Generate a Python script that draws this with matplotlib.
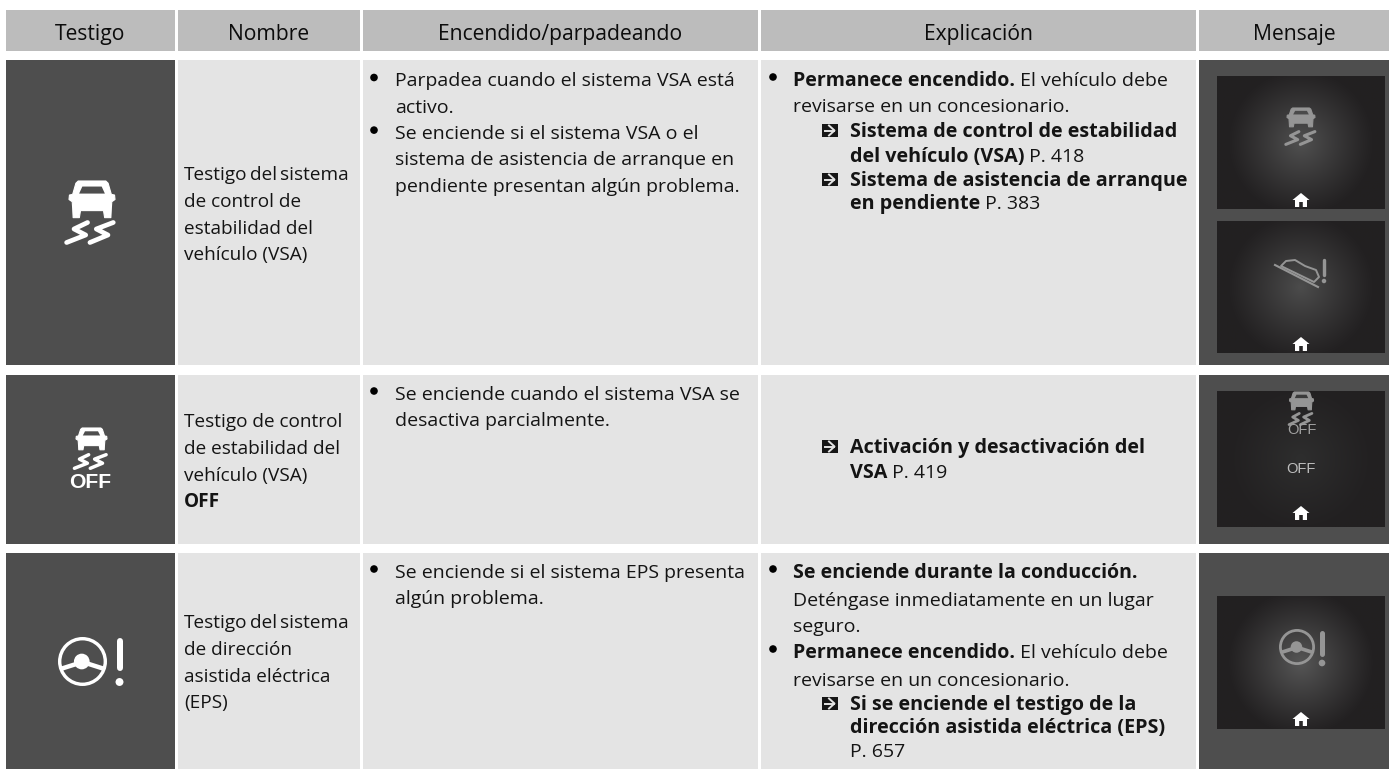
import numpy as np
import matplotlib
matplotlib.use("Agg")
import matplotlib.pyplot as plt
from matplotlib.patches import Rectangle, Polygon, Circle

# ---------- content ----------
headers = ["Testigo", "Nombre", "Encendido/parpadeando", "Explicación", "Mensaje"]
# (text, bold, tight word spacing)
names = [
    [("Testigo del sistema", False, True), ("de control de", False, False), ("estabilidad del", False, False), ("vehículo (VSA)", False, False)],
    [("Testigo de control", False, False), ("de estabilidad del", False, False), ("vehículo (VSA)", False, False), ("OFF", True, False)],
    [("Testigo del sistema", False, True), ("de dirección", False, False), ("asistida eléctrica", False, False), ("(EPS)", False, False)],
]
states = [
    [("b", "Parpadea cuando el sistema VSA está"), ("", "activo."),
     ("b", "Se enciende si el sistema VSA o el"), ("", "sistema de asistencia de arranque en"),
     ("", "pendiente presentan algún problema.")],
    [("b", "Se enciende cuando el sistema VSA se"), ("", "desactiva parcialmente.")],
    [("b", "Se enciende si el sistema EPS presenta"), ("", "algún problema.")],
]
# kind: bullet line (b), plain (""), reference (r), continuation of a reference (c)
explanations = [
    [("b", "Permanece encendido.", " El vehículo debe"), ("", "", "revisarse en un concesionario."),
     ("r", "Sistema de control de estabilidad", ""), ("c", "del vehículo (VSA)", " P. 418"),
     ("r", "Sistema de asistencia de arranque", ""), ("c", "en pendiente", " P. 383")],
    [("r", "Activación y desactivación del", ""), ("c", "VSA", " P. 419")],
    [("b", "Se enciende durante la conducción.", ""), ("", "", "Deténgase inmediatamente en un lugar"),
     ("", "", "seguro."), ("b", "Permanece encendido.", " El vehículo debe"),
     ("", "", "revisarse en un concesionario."), ("r", "Si se enciende el testigo de la", ""),
     ("c", "dirección asistida eléctrica (EPS)", ""), ("c", "", "P. 657")],
]

# ---------- layout (pixels) ----------
W, H = 1389, 769
col = [(6, 175), (178, 360), (363, 758), (761, 1196), (1199, 1389)]
hdr = (10, 51)
rows = [(60, 365), (375, 544), (553, 769)]
name_base = [180, 427, 628]
state_base = [86.5, 400, 578]
state_lh = 26.3
name_lh = 26.8
expl_base = [[86, 112, 137, 162, 186, 209], [453, 478], [578, 606, 632, 658, 686, 710, 733, 757]]
FONT = "Open Sans"
FS = 14.0
NFS = 13.7
RFS = 14.25
HFS = 15.2
INK = "#141414"
DARK, LIGHT, HEAD = "#4e4e4e", "#e4e4e4", "#bcbcbc"
SCR = "#959595"

fig = plt.figure(figsize=(W / 100, H / 100), dpi=100, facecolor="white")
ax = fig.add_axes([0, 0, 1, 1])
ax.set_xlim(0, W); ax.set_ylim(H, 0); ax.axis("off")
rend = fig.canvas.get_renderer()


def box(x0, y0, x1, y1, c, z=1):
    ax.add_patch(Rectangle((x0, y0), x1 - x0, y1 - y0, fc=c, ec="none", zorder=z))


def txt(x, y, s, bold=False, ha="left", fs=FS, c=INK, z=5, fam=FONT):
    return ax.text(x, y, s, family=fam, fontsize=fs, fontweight="bold" if bold else "normal",
                   ha=ha, va="baseline", color=c, zorder=z)


def right_of(t):
    return t.get_window_extent(rend).x1


def car(cx, top, w, h, c, win, z=6):
    """Front view of a car, w wide and h tall (pixels)."""
    hw = w / 2
    body = [(-.60, 0), (.60, 0), (.70, .06), (.84, .36), (.98, .38), (1.0, .50), (.86, .56), (.84, .74), (.82, .99),
            (.55, .99), (.50, .80), (-.50, .80), (-.55, .99), (-.82, .99), (-.84, .74), (-.86, .56), (-1.0, .50),
            (-.98, .38), (-.84, .36), (-.70, .06)]
    ax.add_patch(Polygon([(cx + a * hw, top + b * h) for a, b in body], closed=True, fc=c, ec=c, lw=.8,
                         joinstyle="round", zorder=z))
    glass = [(-.42, .15), (.42, .15), (.56, .34), (-.56, .34)]
    ax.add_patch(Polygon([(cx + a * hw, top + b * h) for a, b in glass], closed=True, fc=win, ec="none", zorder=z + 1))


def skids(cx, top, w, h, c, lw, z=6):
    left = [(-.065, .10), (-.32, .36), (-.10, .60), (-.46, .90)]
    right = [(.42, .10), (.10, .36), (.32, .60), (-.02, .90)]
    for pts in (left, right):
        ax.plot([cx + a * w for a, _ in pts], [top + b * h for _, b in pts], color=c, lw=lw,
                solid_capstyle="round", solid_joinstyle="round", zorder=z)


def wheel(cx, cy, r, c, ring, z=6):
    ax.add_patch(Circle((cx, cy), r - ring / 2, fc="none", ec=c, lw=ring * .72, zorder=z))
    ax.add_patch(Circle((cx - r * .03, cy), r * .32, fc=c, ec="none", zorder=z))
    ax.plot([cx - r * .88, cx, cx + r * .88], [cy + r * .30, cy + r * .02, cy + r * .30], color=c,
            lw=ring * .95, solid_capstyle="butt", solid_joinstyle="round", zorder=z)


def bang(cx, y0, y1, dot_y, w, c, z=6):
    ax.plot([cx, cx], [y0 + w / 2, y1 - w / 2], color=c, lw=w * .72, solid_capstyle="round", zorder=z)
    ax.add_patch(Circle((cx, dot_y), w * .66, fc=c, ec="none", zorder=z))


def home(cx, cy):
    ax.add_patch(Polygon([(cx - 8.5, cy), (cx, cy - 7), (cx + 8.5, cy), (cx + 6, cy), (cx + 6, cy + 7), (cx + 1.8, cy + 7),
                          (cx + 1.8, cy + 2), (cx - 1.8, cy + 2), (cx - 1.8, cy + 7), (cx - 6, cy + 7), (cx - 6, cy)],
                         closed=True, fc="white", ec="none", zorder=8))


def screen(x0, y0, x1, y1, peak):
    yy, xx = np.mgrid[0:1:130j, 0:1:170j]
    px = (xx - .5) * (x1 - x0)
    py = (yy - .5) * (y1 - y0)
    d = np.clip(np.hypot(px, py) / 74.0, 0, 1)
    base = np.array([0x22, 0x20, 0x21]) / 255
    top = np.array([peak] * 3) / 255
    k = ((1 - d) ** 1.1)[..., None]
    ax.imshow(base + (top - base) * k, extent=(x0, x1, y1, y0), aspect="auto", zorder=3, interpolation="bilinear")


def arrow_box(x, y):
    ax.add_patch(Rectangle((x, y - 13), 16, 13, fc="#161616", ec="none", zorder=5))
    ax.plot([x + 3, x + 11.5], [y - 6.5, y - 6.5], color="#e4e4e4", lw=1.4, zorder=6)
    ax.plot([x + 7, x + 12.5, x + 7], [y - 11.5, y - 6.5, y - 1.5], color="#e4e4e4", lw=1.4, zorder=6)


# ---------- table ----------
for (a, b), h in zip(col, headers):
    box(a, hdr[0], b, hdr[1], HEAD)
    txt((a + b) / 2, 40, h, ha="center", fs=HFS, c="#0c0c0c")

for (r0, r1) in rows:
    for i, (a, b) in enumerate(col):
        box(a, r0, b, r1, DARK if i in (0, 4) else LIGHT)

# names
for y0, lines in zip(name_base, names):
    for i, (s, bold, tight) in enumerate(lines):
        y = y0 + i * name_lh
        if tight:
            x = 184
            for w in s.split(" "):
                x = right_of(txt(x, y, w, bold=bold, fs=NFS)) + 2.8
        else:
            txt(184, y, s, bold=bold, fs=NFS)

# states
for y0, lines in zip(state_base, states):
    for i, (k, s) in enumerate(lines):
        y = y0 + i * state_lh
        if k == "b":
            ax.add_patch(Circle((374, y - 9), 3.8, fc="black", ec="none", zorder=5))
        txt(395, y, s)

# explanations
for bases, lines in zip(expl_base, explanations):
    for y, (k, bs, ns) in zip(bases, lines):
        x = 793 if k in ("b", "") else 850
        if k == "b":
            ax.add_patch(Circle((773, y - 9), 3.8, fc="black", ec="none", zorder=5))
        if k == "r":
            arrow_box(822, y)
        if bs:
            x = right_of(txt(x, y, bs, bold=True, fs=RFS if k in ("r", "c") else FS))
        if ns:
            txt(x, y, ns)

# ---------- warning icons ----------
car(92, 181, 46, 37, "white", DARK)
skids(91, 220, 53, 25, "white", 3.4)

car(91.5, 428, 31, 22, "white", DARK)
skids(91, 453, 36, 17, "white", 2.5)
txt(90.5, 488, "OFF", bold=True, ha="center", fs=15.2, c="white", fam="Liberation Sans")

wheel(82.5, 661.5, 24.5, "white", 3.4)
bang(119.5, 638, 671, 682, 6, "white")

# ---------- message screens ----------
screen(1217, 76, 1385, 209, 80)
car(1301, 108, 28, 19, SCR, "#4a4a4a")
skids(1301, 130, 33, 16, SCR, 2.2)
home(1301, 200)

screen(1217, 221, 1385, 353, 76)
slope_x = [1275, 1318]
slope_y = [265, 287]
ax.plot(slope_x, slope_y, color=SCR, lw=1.5, zorder=6)
car_out = [(1281, 266), (1286, 261), (1295, 260), (1305, 266), (1316, 270), (1319, 277), (1314, 282)]
ax.add_patch(Polygon(car_out, closed=True, fc="none", ec=SCR, lw=1.4, joinstyle="round", zorder=6))
bang(1324, 258, 277, 281, 3.4, SCR)
home(1301, 344)

screen(1217, 391, 1385, 527, 46)
car(1301.5, 392, 24, 18, SCR, "#3a3a3a")
skids(1301, 412, 26, 14, SCR, 2.0)
txt(1302, 434, "OFF", ha="center", fs=10.5, c="#a0a0a0", z=7, fam="Liberation Sans")
txt(1301, 473, "OFF", ha="center", fs=10.5, c="#bdbdbd", z=7, fam="Liberation Sans")
home(1301, 513)

screen(1217, 596, 1385, 729, 86)
wheel(1297, 647, 18, SCR, 2.8)
bang(1322, 630, 656, 663, 5, SCR)
home(1301, 719)

fig.savefig("out.png", dpi=100)
